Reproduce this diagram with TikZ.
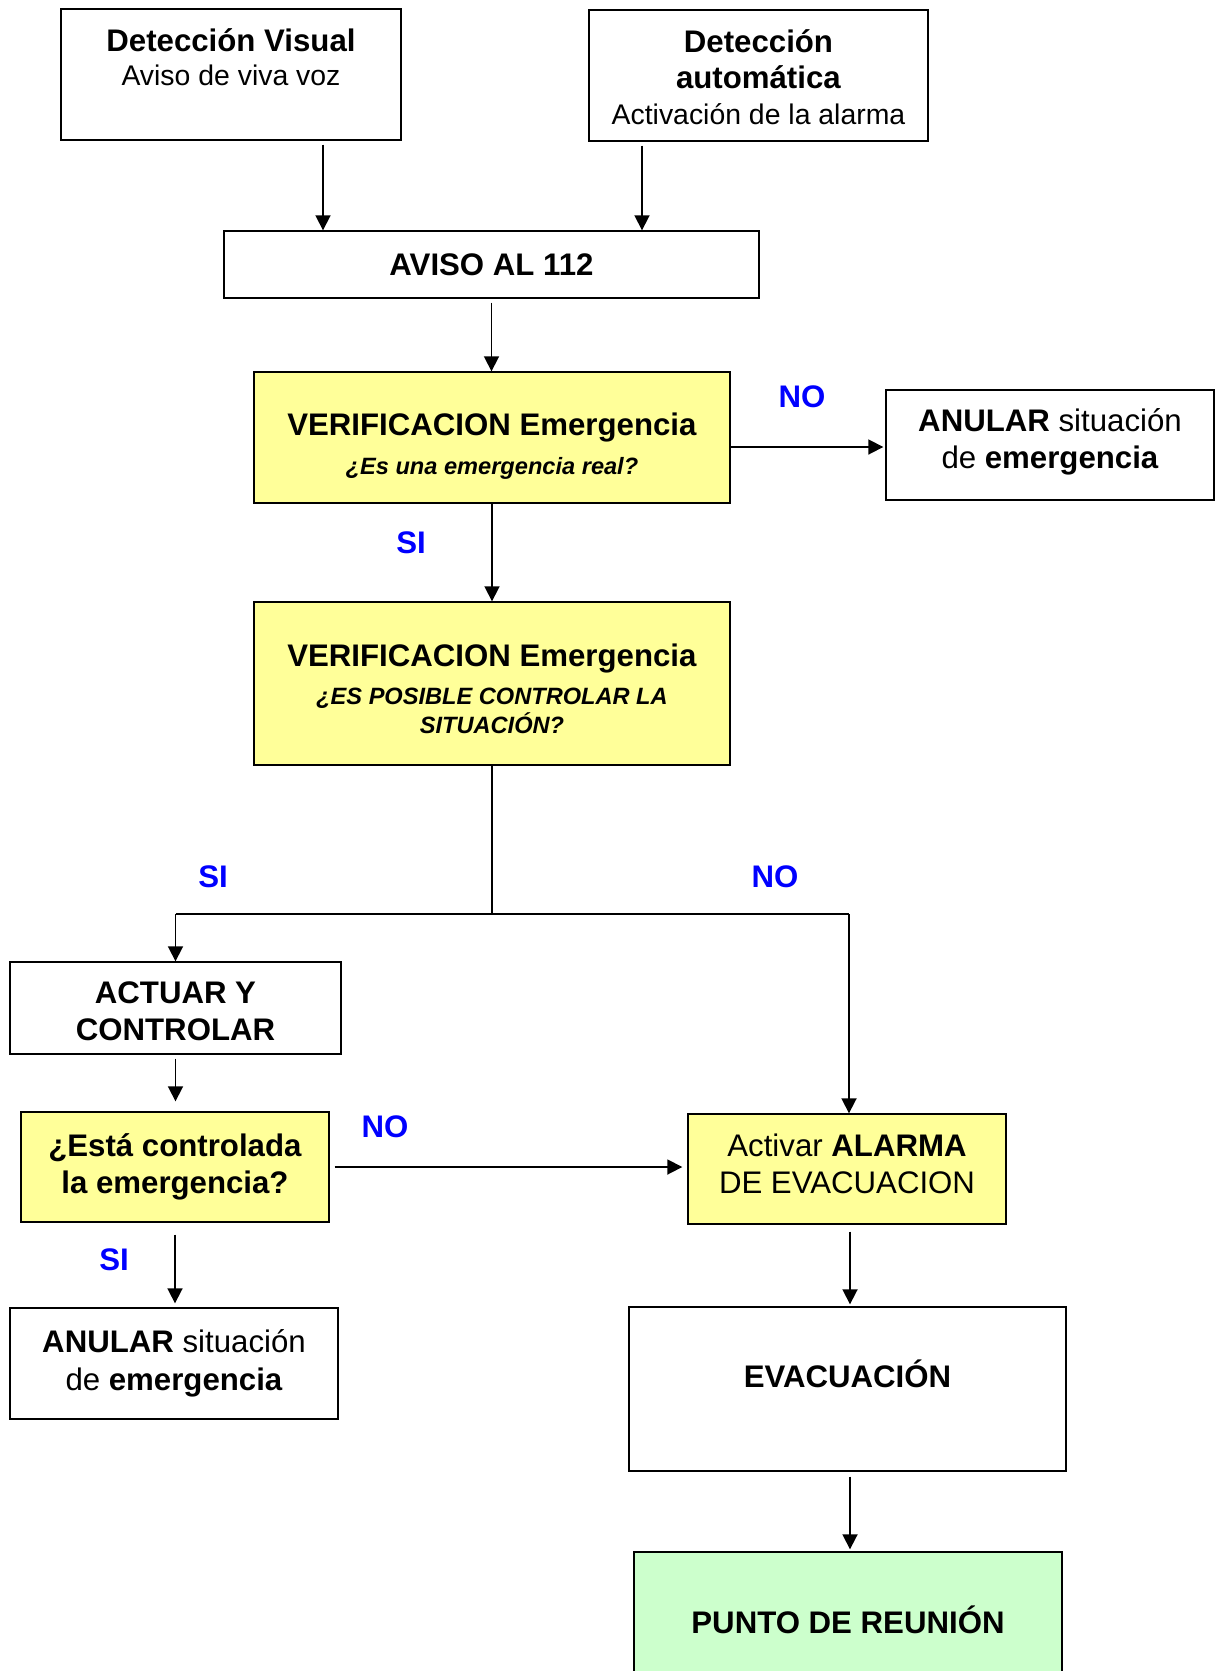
\documentclass[tikz,border=0pt]{standalone}
\usepackage{fontspec}
\setmainfont{Liberation Sans}
\usetikzlibrary{arrows.meta,positioning,calc}
\definecolor{amarillo}{HTML}{FFFF99}
\definecolor{verde}{HTML}{CCFFCC}
\tikzset{
  caja/.style={draw, line width=0.7pt, align=center, inner sep=0pt,
    font=\fontsize{15.6}{18.7}\selectfont},
  amarilla/.style={caja, fill=amarillo},
  texto/.style={align=center, inner sep=0pt, font=\fontsize{15.6}{18.7}\selectfont},
  linea/.style={line width=0.9pt},
  flecha/.style={linea, -{Triangle[length=7.5pt,width=7.5pt]}, shorten <=2pt},
  etiq/.style={text=blue, font=\bfseries\fontsize{15.6}{18.7}\selectfont},
}
\newcommand{\preg}[1]{{\fontsize{11.8}{14.4}\selectfont\bfseries\itshape #1}}
\newcommand{\sub}[1]{{\fontsize{14.2}{17}\selectfont #1}}

\begin{document}
\begin{tikzpicture}[x=0.5pt,y=-0.5pt]
\useasboundingbox (0,0) rectangle (1220,1671);

% deteccion
\node[caja, minimum width=170pt, minimum height=65.5pt] (vis) at (231,74.5) {};
\node[texto, below=10pt of vis.north] (vistxt)
  {\textbf{Detección Visual}\\[-1.7pt]\sub{Aviso de viva voz}};
\node[caja, minimum width=169.5pt, minimum height=65.5pt] (auto) at (758.5,75.5) {};
\node[texto] (autotxt) at ([yshift=-0.8pt]auto.center)
  {\textbf{Detección}\\[-0.5pt]\textbf{automática}\\[-0.5pt]\sub{Activación de la alarma}};
\node[caja, minimum width=267.5pt, minimum height=33.5pt] (aviso) at (491.5,264.5)
  {\textbf{AVISO AL 112}};

% verificacion
\node[amarilla, minimum width=238pt, minimum height=65.5pt] (verif1) at (492,437.5) {};
\node[texto] (verif1txt) at ([yshift=-4.3pt]verif1.center)
  {\textbf{VERIFICACION Emergencia}\\[1pt]\preg{¿Es una emergencia real?}};
\node[caja, minimum width=164pt, minimum height=55pt] (anular1) at (1050,445) {};
\node[texto] (anular1txt) at ([yshift=1.6pt]anular1.center)
  {\textbf{ANULAR} situación\\de \textbf{emergencia}};
\node[amarilla, minimum width=238pt, minimum height=81.5pt] (verif2) at (492,683.5) {};
\node[texto] (verif2txt) at ([yshift=-2.7pt]verif2.center)
  {\textbf{VERIFICACION Emergencia}\\\preg{¿ES POSIBLE CONTROLAR LA}\\[-4.3pt]\preg{SITUACIÓN?}};

% rama izquierda
\node[caja, minimum width=165.5pt, minimum height=46pt] (actuar) at (175.5,1008) {};
\node[texto] (actuartxt) at ([yshift=-1.6pt]actuar.center)
  {\textbf{ACTUAR Y}\\\textbf{CONTROLAR}};
\node[amarilla, minimum width=154pt, minimum height=55pt] (esta) at (175,1167)
  {\textbf{¿Está controlada}\\\textbf{la emergencia?}};
\node[caja, minimum width=164pt, minimum height=55.5pt] (anular2) at (174,1363.5)
  {\textbf{ANULAR} situación\\de \textbf{emergencia}};

% rama derecha
\node[amarilla, minimum width=159pt, minimum height=55pt] (alarma) at (847,1169) {};
\node[texto] (alarmatxt) at ([yshift=2.7pt]alarma.center)
  {Activar \textbf{ALARMA}\\DE EVACUACION};
\node[caja, minimum width=218.5pt, minimum height=82pt] (evac) at (847.5,1389) {};
\node[texto, font=\bfseries\fontsize{15.6}{18.7}\selectfont] (evactxt)
  at ([yshift=7.5pt]evac.center) {EVACUACIÓN};
\node[caja, fill=verde, minimum width=214pt, minimum height=68pt] (punto) at (848,1620)
  {\textbf{PUNTO DE REUNIÓN}};

% etiquetas
\node[etiq] (no1) at (802,397) {NO};
\node[etiq] (si1) at (411,543) {SI};
\node[etiq] (si2) at (213,877) {SI};
\node[etiq] (no2) at (775,877) {NO};
\node[etiq] (no3) at (385,1127) {NO};
\node[etiq] (si3) at (114,1260) {SI};

% conectores
\coordinate (cruce) at (491,914);
\coordinate (cruced) at ($(alarma.north |- cruce)+(2,0)$);
\draw[flecha] ($(vis.south)+(92,0)$) -- ($(aviso.north)+(-168.5,0)$);
\draw[flecha] ($(auto.south)+(-116.5,0)$) -- ($(aviso.north)+(150.5,0)$);
\draw[flecha] (aviso.south) -- (aviso.south |- verif1.north);
\draw[flecha, shorten <=0pt, shorten >=1pt] ($(verif1.east |- anular1.west)+(0,2)$) -- ($(anular1.west)+(0,2)$);
\draw[flecha, shorten <=0pt] (verif1.south) -- (verif1.south |- verif2.north);
\draw[linea] (verif2.south) -- (verif2.south |- cruce);
\draw[linea] (actuar.north |- cruce) -- (cruced);
\draw[flecha, shorten <=0pt] (actuar.north |- cruce) -- (actuar.north);
\draw[flecha, shorten <=0pt] (cruced) -- (cruced |- alarma.north);
\draw[flecha, shorten >=5pt] (actuar.south) -- (actuar.south |- esta.north);
\draw[flecha, shorten >=2.5pt, shorten <=2.5pt] (esta.east) -- (esta.east -| alarma.west);
\draw[flecha, shorten <=6pt, shorten >=2pt] (esta.south) -- (esta.south |- anular2.north);
\draw[flecha, shorten <=3.5pt, shorten >=1pt] ($(alarma.south)+(3,0)$) -- ($(evac.north)+(2.5,0)$);
\draw[flecha, shorten <=2.5pt, shorten >=1pt] ($(evac.south)+(2.5,0)$) -- ($(punto.north)+(2,0)$);
\end{tikzpicture}
\end{document}
